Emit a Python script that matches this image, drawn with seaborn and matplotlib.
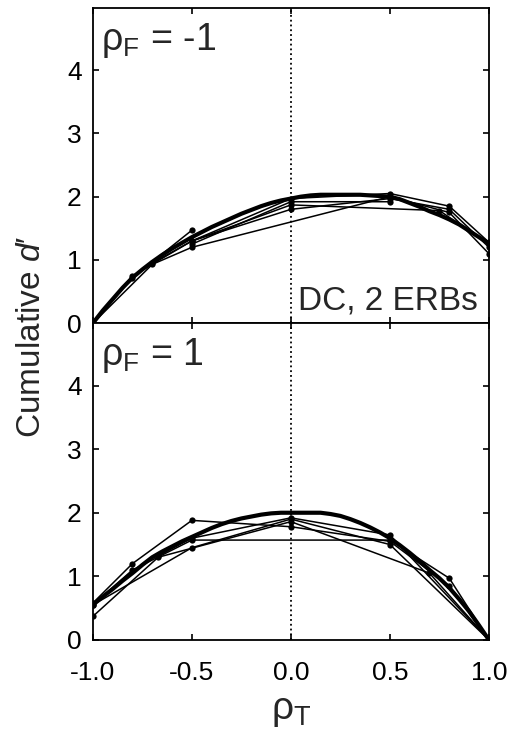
import numpy as np
import pandas as pd
import matplotlib
matplotlib.use('Agg')
import matplotlib.pyplot as plt
import seaborn as sns

# thick curve sampled every 0.05 in rho_T
curve_x = [-1.0, -0.95, -0.9, -0.85, -0.8, -0.75, -0.7, -0.65, -0.6, -0.55, -0.5,
           -0.45, -0.4, -0.35, -0.3, -0.25, -0.2, -0.15, -0.1, -0.05, 0.0,
           0.05, 0.1, 0.15, 0.2, 0.25, 0.3, 0.35, 0.4, 0.45, 0.5,
           0.55, 0.6, 0.65, 0.7, 0.75, 0.8, 0.85, 0.9, 0.95, 1.0]
# rho_F = -1
curve_top = [0.0, 0.2, 0.38, 0.56, 0.72, 0.85, 0.97, 1.08, 1.18, 1.27, 1.36,
             1.44, 1.52, 1.59, 1.66, 1.73, 1.79, 1.85, 1.9, 1.94, 1.97,
             2.0, 2.02, 2.03, 2.03, 2.03, 2.03, 2.03, 2.02, 2.01, 2.0,
             1.96, 1.9, 1.84, 1.77, 1.71, 1.64, 1.56, 1.46, 1.36, 1.26]
# rho_F = 1
curve_bot = [0.55, 0.68, 0.8, 0.93, 1.05, 1.18, 1.3, 1.39, 1.47, 1.55, 1.62,
             1.69, 1.76, 1.82, 1.87, 1.91, 1.94, 1.97, 1.99, 2.0, 2.0,
             2.0, 2.0, 2.0, 1.98, 1.95, 1.9, 1.84, 1.77, 1.69, 1.6,
             1.49, 1.37, 1.24, 1.1, 0.97, 0.82, 0.64, 0.45, 0.23, 0.0]

# thin connecting lines (x, y per line)
top_lines = [
    ([-1.0, -0.8, -0.5, 0.0, 0.5, 0.8, 1.0], [0.0, 0.75, 1.3, 1.97, 2.05, 1.85, 1.28]),
    ([-1.0, -0.7, -0.5, 0.5, 0.8, 1.0], [0.0, 0.93, 1.2, 2.0, 1.75, 1.1]),
    ([-1.0, -0.8, -0.5], [0.0, 0.72, 1.47]),
    ([-0.7, -0.5, 0.0, 0.75, 1.0], [0.95, 1.3, 1.87, 1.78, 1.25]),
    ([-0.5, 0.0, 0.5, 0.8, 1.0], [1.3, 1.8, 1.97, 1.8, 1.2]),
    ([-0.5, 0.0, 0.5], [1.25, 1.92, 1.92]),
]
bot_lines = [
    ([-1.0, -0.8, -0.5, 0.0, 0.5, 0.8, 1.0], [0.58, 1.2, 1.88, 1.78, 1.55, 0.85, 0.0]),
    ([-1.0, -0.67, 0.0, 0.7, 1.0], [0.37, 1.3, 1.86, 1.05, 0.0]),
    ([-1.0, -0.8, -0.5, 0.5, 0.8, 1.0], [0.55, 1.1, 1.57, 1.57, 0.97, 0.0]),
    ([-0.67, -0.5, 0.0, 0.5, 1.0], [1.32, 1.6, 1.92, 1.65, 0.0]),
    ([-1.0, -0.5, 0.0, 0.5, 1.0], [0.55, 1.45, 1.9, 1.5, 0.0]),
]

panel_labels = [r'ρ$_\mathrm{F}$ = -1', r'ρ$_\mathrm{F}$ = 1']
xtick_labels = ['-1.0', '-0.5', '0.0', '0.5', '1.0']

sns.set_style('ticks')
plt.rcParams['font.family'] = ['Liberation Sans', 'DejaVu Sans']
plt.rcParams['mathtext.fontset'] = 'custom'
plt.rcParams['mathtext.rm'] = 'Liberation Sans'
plt.rcParams['mathtext.it'] = 'Liberation Sans:italic'

fig = plt.figure(figsize=(5.13, 7.33), dpi=100)
ax1 = fig.add_axes([0.181, 0.559, 0.772, 0.430])
ax2 = fig.add_axes([0.181, 0.127, 0.772, 0.432])

for ax, curve, lines, lab in [(ax1, curve_top, top_lines, panel_labels[0]),
                              (ax2, curve_bot, bot_lines, panel_labels[1])]:
    rows = []
    for i, (xs, ys) in enumerate(lines):
        for x, y in zip(xs, ys):
            rows.append({'line': i, 'x': x, 'y': y})
    df = pd.DataFrame(rows)
    sns.lineplot(data=df, x='x', y='y', units='line', estimator=None, sort=False,
                 color='black', lw=1.1, marker='o', markersize=4.5,
                 markeredgewidth=0, ax=ax)
    cdf = pd.DataFrame({'x': curve_x, 'y': curve})
    sns.lineplot(data=cdf, x='x', y='y', color='black', lw=3.0, ax=ax)
    ax.axvline(0, color='black', ls=':', lw=1.3)
    ax.set_xlim(-1.0, 1.0)
    ax.set_ylim(0, 4.98)
    ax.set_yticks([0, 1, 2, 3, 4])
    ax.set_xticks([-1.0, -0.5, 0.0, 0.5, 1.0])
    ax.tick_params(direction='in', length=4, width=1.2, top=True, right=True,
                   labelsize=19, colors='black')
    ax.tick_params(axis='y', pad=8)
    ax.tick_params(axis='x', pad=15)
    for s in ax.spines.values():
        s.set_linewidth(1.3)
        s.set_color('black')
    ax.set_xlabel('')
    ax.set_ylabel('')
    ax.text(0.02, 0.96, lab, transform=ax.transAxes, fontsize=27,
            va='top', ha='left')

ax1.tick_params(labelbottom=False)
ax1.text(0.972, 0.02, 'DC, 2 ERBs', transform=ax1.transAxes, fontsize=24,
         ha='right', va='bottom')
ax2.set_xticklabels(xtick_labels)
ax2.set_xlabel(r'ρ$_\mathrm{T}$', fontsize=28, labelpad=6)
fig.text(0.062, 0.54, r"Cumulative $d$′", rotation=90, fontsize=24,
         ha='center', va='center')

fig.savefig('out.png', dpi=100)
